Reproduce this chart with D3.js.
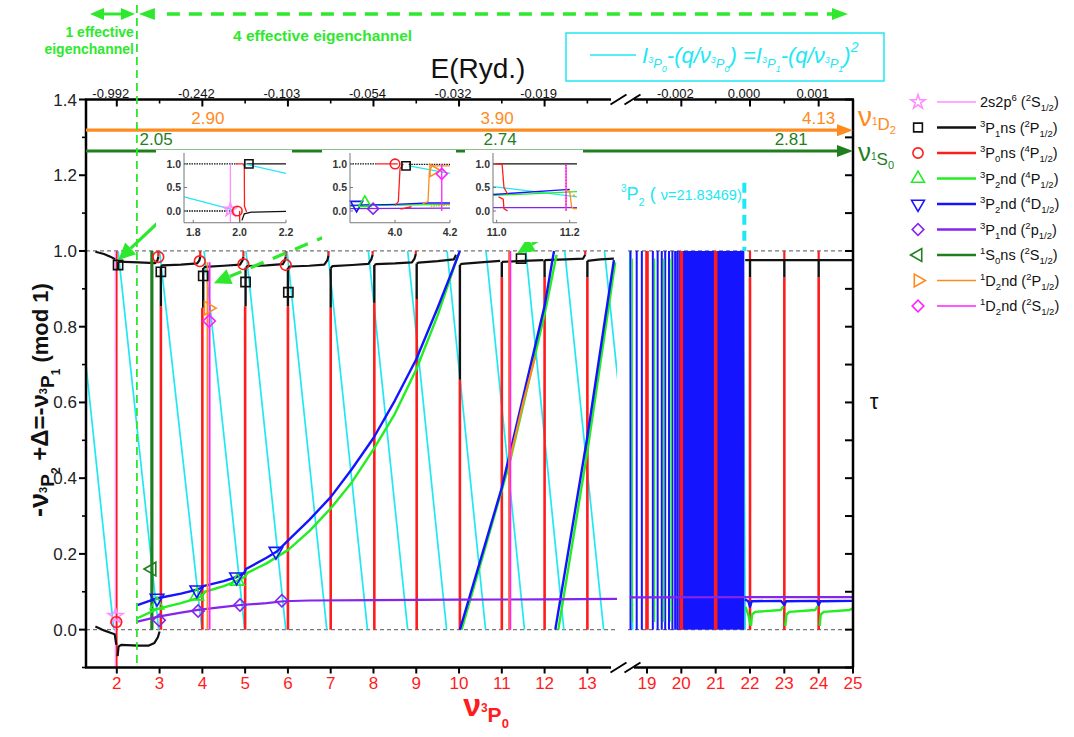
<!DOCTYPE html>
<html><head><meta charset="utf-8">
<script src="https://cdn.jsdelivr.net/npm/d3@7"></script>
<style>body{margin:0;background:#fff} svg{display:block} text{font-family:"Liberation Sans",Arial,sans-serif}</style>
</head><body><svg id="c" width="1074" height="737"></svg>
<script>
// ================= DATA =================
const yTickVals=[0,0.2,0.4,0.6,0.8,1.0,1.2,1.4];
const yMinorVals=[-0.1,0.1,0.3,0.5,0.7,0.9,1.1,1.3];
const xTickLeft=[2,3,4,5,6,7,8,9,10,11,12,13];
const xTickRight=[19,20,21,22,23,24,25];
const topMajorNu=[2,4,6,8,10,12,20,22,24];
const topLabels=["-0.992","-0.242","-0.103","-0.054","-0.032","-0.019","-0.002","0.000","0.001"];
const topMinorNu=[3,5,7,9,11,13,19,21,23,25];

// cyan: [nu_start, y_start, nu_end, y_end]
const cyanLines=[[1.28,0.70,1.93,0],[2.03,1,2.98,0],[3.0,1,3.99,0],[4.04,1,4.99,0],[5.02,1,5.95,0],[5.98,1,6.91,0],[6.93,1,7.86,0],[7.88,1,8.8,0],[8.8,1,9.71,0],[9.72,1,10.62,0],[10.63,1,11.53,0],[11.56,1,12.45,0],[12.47,1,13.38,0],[13.4,1,13.72,0.65],[18.5,1,18.58,0],[21.8,1,21.86,0]];

// 3P1ns (black)
const blackCurves=[
 [[1.5,0.998],[1.7,0.992],[1.85,0.985],[1.96,0.978]],
 [[2.03,0.972],[2.5,0.97],[2.9,0.968],[2.95,0.975],[2.97,0.985]],
 [[3.03,0.958],[3.06,0.962],[3.5,0.964],[3.88,0.967],[3.93,0.975],[3.95,0.985]],
 [[4.03,0.955],[4.06,0.958],[4.5,0.961],[4.88,0.964],[4.94,0.975],[4.96,0.985]],
 [[5.02,0.956],[5.05,0.96],[5.5,0.962],[5.88,0.965],[5.93,0.975],[5.95,0.985]],
 [[6.0,0.955],[6.04,0.959],[6.5,0.961],[6.85,0.964],[6.92,0.975],[6.95,0.988]],
 [[7.0,0.954],[7.04,0.96],[7.5,0.963],[7.88,0.966],[7.95,0.978],[7.98,0.99]],
 [[8.02,0.963],[8.06,0.965],[8.5,0.967],[8.9,0.97],[8.96,0.98],[8.99,0.992]],
 [[9.01,0.967],[9.05,0.969],[9.5,0.973],[9.88,0.978],[9.93,0.99]],
 [[10.02,0.963],[10.06,0.966],[10.5,0.97],[10.96,0.974]],
 [[11.0,0.971],[11.5,0.974],[11.97,0.976]],
 [[12.0,0.976],[12.5,0.978],[12.9,0.98],[12.95,0.99]],
 [[13.0,0.974],[13.3,0.978],[13.62,0.98]],
 [[21.86,0.976],[22.5,0.976],[23.5,0.976],[25,0.976]],
 [[1.5,0.008],[1.7,-0.002],[1.85,-0.008],[1.95,-0.012],[1.99,-0.04]],
 [[2.02,-0.07],[2.04,-0.045],[2.1,-0.04],[2.5,-0.042],[2.75,-0.042],[2.88,-0.035],[2.96,-0.02],[3.0,-0.005]]
];
// [nu, yTop, yBottom]
const blackDrops=[[2.03,0.972,0.95],[3.03,0.958,0.854],[4.02,0.955,0.85],[5.01,0.956,0.854],[6.0,0.955,0.854],[7.0,0.954,0.85],[8.02,0.963,0.863],[9.01,0.967,0.873],[10.02,0.963,0.66],[11.0,0.971,0.93],[12.0,0.976,0.93],[13.0,0.974,0.93],[22.0,0.976,0.93],[23.0,0.976,0.93],[24.0,0.976,0.93]];

// 3P0ns (red): [nu, y0, y1]
const redVerticals=[[2.0,-0.1,1.0],[3.03,0,0.854],[4.0,0,0.85],[5.0,0,0.854],[6.0,0,0.854],[7.0,0,0.85],[8.02,0,0.863],[9.01,0,0.873],[10.02,0,0.66],[11.0,0,0.93],[11.18,0,1.0],[12.0,0,0.93],[13.0,0,0.93],[22.0,0,0.93],[23.0,0,0.93],[24.0,0,0.93]];
const redThick=[[19.0,0,1],[20.0,0,1],[21.0,0,1]];
const redHooks=[[2.97,0.985,1.0],[3.95,0.985,1.0],[4.96,0.985,1.0],[5.95,0.985,1.0],[6.95,0.988,1.0],[7.98,0.99,1.0],[8.99,0.992,1.0],[12.95,0.99,1.0],[22.0,0.976,1.0],[23.0,0.976,1.0],[24.0,0.976,1.0]];

// 3P2nd (4D) blue
const blueCurves=[
 [[2.48,0.065],[2.95,0.083],[3.5,0.095],[3.85,0.105],[3.98,0.11],[4.02,0.115],[4.5,0.128],[4.8,0.139],[4.98,0.15],[5.02,0.16],[5.5,0.19],[5.75,0.207],[6.0,0.235],[6.5,0.29],[7.0,0.35],[7.5,0.425],[8.0,0.506],[8.5,0.605],[9.0,0.714],[9.5,0.85],[9.85,0.95],[10.02,1.0]],
 [[10.02,0],[11.0,0.375],[12.0,0.855],[12.22,1.0]],
 [[12.25,0],[13.0,0.51],[13.62,0.976]],
 [[21.85,0.08],[21.95,0.075],[22.0,0.06],[22.05,0.075],[22.9,0.076],[23.0,0.065],[23.05,0.075],[23.95,0.076],[24.0,0.065],[24.05,0.075],[25,0.076]]
];
const blueRightLines=[18.52,18.7,18.85,19.17,19.31,19.43,19.53,19.64,19.74,19.82,19.88,19.94,19.98];
const blueBand=[20.0,21.835];

// 3P2nd (4P) green
const greenCurves=[
 [[2.48,0.03],[2.95,0.055],[3.5,0.07],[3.85,0.082],[4.0,0.09],[4.06,0.1],[4.5,0.115],[4.8,0.128],[5.0,0.14],[5.05,0.15],[5.5,0.175],[6.0,0.21],[6.5,0.26],[7.0,0.32],[7.5,0.39],[8.0,0.476],[8.5,0.57],[9.0,0.687],[9.5,0.83],[9.98,0.99]],
 [[10.06,0],[11.19,0.444],[12.0,0.833],[12.28,0.99]],
 [[12.32,0],[13.0,0.47],[13.65,0.97]],
 [[21.87,0.06],[21.95,0.04],[22.02,0.01]],
 [[22.03,0.01],[22.06,0.04],[22.15,0.047],[22.9,0.052],[22.97,0.062]],
 [[23.03,0.01],[23.06,0.04],[23.15,0.047],[23.9,0.052],[23.97,0.062]],
 [[24.03,0.01],[24.06,0.04],[24.15,0.047],[24.9,0.052],[25,0.056]]
];
const greenRightLines=[18.55,19.2,19.47,19.68];

// 3P1nd purple
const purpleCurves=[
 [[2.48,0.021],[3.0,0.035],[3.5,0.045],[3.9,0.052],[4.5,0.06],[4.9,0.065],[5.5,0.07],[5.9,0.075],[6.5,0.077],[8,0.078],[10,0.079],[12,0.08],[13.72,0.081]],
 [[18.5,0.085],[25,0.086]]
];
const pinkVerticals=[[1.97,-0.1,1.0]];
const dkGreenVerticals=[[2.82,0,1.0]];
const orangeVerticals=[[4.12,0,0.97],[11.17,0,1.0]];
const orangeCurves=[[[11.19,0.45],[11.5,0.6],[11.78,0.72]]];
const magentaVerticals=[[4.17,0,0.97],[11.2,0,1.0]];

// markers
const mkStar=[[1.97,0.036]];
const mkSquare=[[2.03,0.963],[3.03,0.945],[4.02,0.934],[5.01,0.918],[6.01,0.891],[11.45,0.98]];
const mkCircle=[[1.99,0.02],[2.97,0.984],[3.94,0.973],[4.96,0.965],[5.95,0.963]];
const mkTriUp=[[2.94,0.065],[3.87,0.089],[4.82,0.128]];
const mkTriDown=[[2.94,0.083],[3.87,0.105],[4.8,0.139],[5.72,0.207]];
const mkDiaPurple=[[2.99,0.025],[3.9,0.049],[4.88,0.065],[5.86,0.076]];
const mkTriLeft=[[2.82,0.16]];
const mkTriRight=[[4.14,0.849]];
const mkDiaMag=[[4.16,0.815]];

// channel thresholds (arrows)
const nu1D2=[["2.90",4.13],["3.90",10.89],["4.13",24.0]];
const nu1S0=[["2.05",2.92],["2.74",10.96],["2.81",23.2]];
const y1D2=1.319, y1S0=1.264;
const nu3P2=21.83469;
const channelSplitNu=2.47;

// insets
const insetY=[-0.25,1.19];
const insets=[
 {xd:[1.76,2.2], xt:[1.8,2.0,2.2],
  lines:[
   {c:"#111",d:[[1.76,1.0],[1.99,1.0]],dash:"1.5,1"},
   {c:"#111",d:[[2.03,1.0],[2.2,1.0]]},
   {c:"#111",d:[[1.76,0.0],[1.97,0.0]],dash:"1.5,1"},
   {c:"#111",d:[[2.01,-0.2],[2.02,-0.06],[2.05,-0.025],[2.2,-0.01]]},
   {c:"cyan",d:[[1.76,0.3],[1.97,0.03]]},
   {c:"cyan",d:[[2.02,1.0],[2.2,0.8]]},
   {c:"pink",d:[[1.96,-0.25],[1.96,1.0]]},
   {c:"red",d:[[1.985,1.0],[2.015,1.0],[2.02,0.95],[2.021,0.1],[2.03,-0.02]]},
   {c:"red",d:[[2.0,0.0],[2.0,-0.25]]}
  ],
  marks:[["star",1.96,0.03],["circle",1.99,0.0],["square",2.04,1.0]]},
 {xd:[3.836,4.2], xt:[4.0,4.2],
  lines:[
   {c:"#111",d:[[3.836,1.0],[3.93,1.0]],dash:"1.5,1"},
   {c:"red",d:[[3.93,1.0],[4.01,1.0]]},
   {c:"#111",d:[[4.05,0.99],[4.2,0.99]],dash:"1.5,1"},
   {c:"cyan",d:[[4.05,0.96],[4.2,0.8]]},
   {c:"purple",d:[[3.836,0.05],[4.2,0.06]]},
   {c:"green",d:[[3.836,0.1],[3.9,0.14],[3.95,0.12],[4.2,0.14]]},
   {c:"blue",d:[[3.836,0.12],[4.0,0.14],[4.12,0.17],[4.2,0.17]]},
   {c:"red",d:[[4.0,0.12],[4.012,0.2],[4.018,0.9],[4.03,1.0]]},
   {c:"red",d:[[4.02,0.04],[4.06,0.09]]},
   {c:"orange",d:[[4.1,0.15],[4.12,0.2],[4.125,0.85],[4.135,0.96],[4.2,0.96]]},
   {c:"orange",d:[[4.13,0.1],[4.2,0.13]],dash:"1.5,1"},
   {c:"magenta",d:[[4.17,0.0],[4.17,1.0]]}
  ],
  marks:[["circle",4.0,1.0],["square",4.04,0.96],["triRight",4.14,0.86],["diaMag",4.17,0.79],["triDown",3.86,0.13],["triUp",3.89,0.17],["diaPurple",3.92,0.05]]},
 {xd:[10.99,11.22], xt:[11.0,11.2],
  lines:[
   {c:"#111",d:[[10.99,1.0],[11.22,1.0]]},
   {c:"cyan",d:[[10.99,0.52],[11.22,0.3]]},
   {c:"purple",d:[[10.99,0.07],[11.22,0.07]]},
   {c:"green",d:[[10.99,0.33],[11.22,0.41]]},
   {c:"blue",d:[[10.99,0.35],[11.2,0.46]]},
   {c:"red",d:[[10.99,1.0],[11.015,0.99],[11.02,0.5],[11.03,0.36]]},
   {c:"red",d:[[11.005,0.3],[11.018,0.25],[11.02,0.05],[11.03,0.0]]},
   {c:"red",d:[[11.19,0.0],[11.19,1.0]],dash:"1.5,1.5"},
   {c:"magenta",d:[[11.19,0.02],[11.19,1.0]]},
   {c:"orange",d:[[11.19,0.45],[11.2,0.42],[11.205,0.1],[11.21,0.05],[11.22,0.05]]},
   {c:"orange",d:[[11.21,0.35],[11.215,0.3]]}
  ],
  marks:[]}
];
const insetPx=[[184,286],[350,450],[493,577]];

// legend
const legendItems=[
 ["star","pink","2s2p^{6} (^{2}S_{1/2})"],
 ["square","black","^{3}P_{1}ns (^{2}P_{1/2})"],
 ["circle","red","^{3}P_{0}ns (^{4}P_{1/2})"],
 ["triUp","green","^{3}P_{2}nd (^{4}P_{1/2})"],
 ["triDown","blue","^{3}P_{2}nd (^{4}D_{1/2})"],
 ["diaPurple","purple","^{3}P_{1}nd (^{2}p_{1/2})"],
 ["triLeft","dkgreen","^{1}S_{0}ns (^{2}S_{1/2})"],
 ["triRight","orange","^{1}D_{2}nd (^{2}P_{1/2})"],
 ["diaMag","magenta","^{1}D_{2}nd (^{2}S_{1/2})"]
];

// ================= STYLE =================
const COL={cyan:"#20e8f2",red:"#ff1c1c",blue:"#1414ff",green:"#22ee22",purple:"#8424ee",orange:"#ff8a1e",
 magenta:"#ff20ff",pink:"#ff8eff",dkgreen:"#1f7f1f",black:"#111",lime:"#2ee82e"};
const col=c=>COL[c]||c;

// ================= SCALES =================
const xL=d3.scaleLinear().domain([2,12]).range([116.8,544.6]);
const xR=d3.scaleLinear().domain([19,25]).range([647,853]);
const X=v=>v<16?xL(v):xR(v);
const Y=d3.scaleLinear().domain([-0.1,1.4]).range([667.5,99.5]);
const PL=86, PR=853, PT=Y(1.4), PB=Y(-0.1);
const BRK0=617, BRK1=628;

const svg=d3.select('#c');
const defs=svg.append('defs');
defs.append('clipPath').attr('id','clipL').append('rect').attr('x',PL).attr('y',PT).attr('width',BRK0-PL).attr('height',PB-PT);
defs.append('clipPath').attr('id','clipR').append('rect').attr('x',BRK1).attr('y',PT).attr('width',PR-BRK1).attr('height',PB-PT);
const gL=svg.append('g').attr('clip-path','url(#clipL)');
const gR=svg.append('g').attr('clip-path','url(#clipR)');
const G=v=>v<16?gL:gR;
const line=d3.line().x(d=>X(d[0])).y(d=>Y(d[1]));

function poly(pts,c,w,dash){G(pts[0][0]).append('path').attr('d',line(pts)).attr('fill','none')
  .attr('stroke',col(c)).attr('stroke-width',w).attr('stroke-linejoin','round').attr('stroke-dasharray',dash||null);}
function vline(a,c,w){poly([[a[0],a[1]],[a[0],a[2]]],c,w);}

function symPath(type,size){
  const s=size||1;
  switch(type){
    case 'star': return {p:d3.symbol(d3.symbolStar,70*s)(),r:0};
    case 'square': return {p:d3.symbol(d3.symbolSquare,85*s)(),r:0};
    case 'circle': return {p:d3.symbol(d3.symbolCircle,90*s)(),r:0};
    case 'triUp': return {p:d3.symbol(d3.symbolTriangle,80*s)(),r:0};
    case 'triDown': return {p:d3.symbol(d3.symbolTriangle,80*s)(),r:180};
    case 'triLeft': return {p:d3.symbol(d3.symbolTriangle,80*s)(),r:-90};
    case 'triRight': return {p:d3.symbol(d3.symbolTriangle,80*s)(),r:90};
    case 'diaPurple': case 'diaMag': return {p:d3.symbol(d3.symbolSquare,75*s)(),r:45};
  }
}
const symCol={star:'pink',square:'black',circle:'red',triUp:'green',triDown:'blue',diaPurple:'purple',triLeft:'dkgreen',triRight:'orange',diaMag:'magenta'};
function drawSym(g,type,x,y,size){
  const s=symPath(type,size);
  g.append('path').attr('d',s.p).attr('transform',`translate(${x},${y}) rotate(${s.r})`)
   .attr('fill','none').attr('stroke',col(symCol[type])).attr('stroke-width',1.6);
}

function rich(t,str,size){
  const re=/(\^\{[^}]*\}|_\{[^}]*\}|[^\^_]+)/g; let m,off=0;
  while((m=re.exec(str))){
    const s=m[0]; let tgt=0,txt=s,fs=size;
    if(s[0]==='^'){tgt=-size*0.4;txt=s.slice(2,-1);fs=size*0.66;}
    else if(s[0]==='_'){tgt=size*0.28;txt=s.slice(2,-1);fs=size*0.66;}
    t.append('tspan').attr('dy',tgt-off).attr('font-size',fs).text(txt); off=tgt;
  }
}
function tokens(t,list){let off=0;list.forEach(([txt,o,fs,extra])=>{const ts=t.append('tspan').attr('dy',o-off).attr('font-size',fs).text(txt);if(extra)ts.attr('font-style',extra);off=o;});}

// ================= PLOT CONTENT =================
[0,1].forEach(v=>{
  [gL,gR].forEach((g,i)=>g.append('line').attr('x1',i?BRK1:PL).attr('x2',i?PR:BRK0).attr('y1',Y(v)).attr('y2',Y(v))
   .attr('stroke','#777').attr('stroke-width',1.3).attr('stroke-dasharray','4,3'));
});
cyanLines.forEach(c=>poly([[c[0],c[1]],[c[2],c[3]]],'cyan',1.7));
pinkVerticals.forEach(a=>vline(a,'pink',1.6));
gR.append('rect').attr('x',X(blueBand[0])).attr('width',X(blueBand[1])-X(blueBand[0]))
  .attr('y',Y(1.0)).attr('height',Y(0)-Y(1.0)).attr('fill',COL.blue);
blueRightLines.forEach(v=>vline([v,0,1.0],'blue',2));
greenRightLines.forEach(v=>vline([v+0.02,0.02,0.98],'green',1.4));
redVerticals.forEach(a=>vline(a,'red',a[0]===2.0?1.6:2.6));
redThick.forEach(a=>vline(a,'red',3.6));
redHooks.forEach(a=>vline(a,'red',2.2));
blackCurves.forEach(p=>poly(p,'black',2.2));
blackDrops.forEach(a=>vline(a,'black',2.4));
dkGreenVerticals.forEach(a=>vline(a,'dkgreen',3.2));
greenCurves.forEach(p=>poly(p,'green',2.4));
blueCurves.forEach(p=>poly(p,'blue',2.4));
purpleCurves.forEach(p=>poly(p,'purple',2.2));
orangeVerticals.forEach(a=>vline(a,'orange',1.8));
orangeCurves.forEach(p=>poly(p,'orange',2.2));
magentaVerticals.forEach(a=>vline(a,'magenta',1.8));
const gM=svg.append('g');
[[mkStar,'star'],[mkSquare,'square'],[mkCircle,'circle'],[mkTriUp,'triUp'],[mkTriDown,'triDown'],[mkDiaPurple,'diaPurple'],[mkTriLeft,'triLeft'],[mkTriRight,'triRight'],[mkDiaMag,'diaMag']]
 .forEach(([arr,t])=>arr.forEach(d=>drawSym(gM,t,X(d[0]),Y(d[1]))));

// ================= AXES =================
const ax=svg.append('g').attr('stroke','#000');
ax.append('line').attr('x1',PL).attr('x2',PL).attr('y1',PT).attr('y2',PB).attr('stroke-width',2.5);
ax.append('line').attr('x1',PR).attr('x2',PR).attr('y1',PT).attr('y2',PB).attr('stroke-width',2.5);
[PB,PT].forEach(yy=>{
  ax.append('line').attr('x1',PL-1).attr('x2',BRK0-6).attr('y1',yy).attr('y2',yy).attr('stroke-width',2.5);
  ax.append('line').attr('x1',BRK1+6).attr('x2',PR+1).attr('y1',yy).attr('y2',yy).attr('stroke-width',2.5);
  [[-12,4],[2,18]].forEach(([a,b])=>ax.append('line').attr('x1',(BRK0+BRK1)/2+a).attr('x2',(BRK0+BRK1)/2+b)
    .attr('y1',yy+5).attr('y2',yy-5).attr('stroke-width',2));
});
yTickVals.forEach(v=>{
  ax.append('line').attr('x1',PL-7).attr('x2',PL).attr('y1',Y(v)).attr('y2',Y(v)).attr('stroke-width',2);
  ax.append('line').attr('x1',PR-8).attr('x2',PR).attr('y1',Y(v)).attr('y2',Y(v)).attr('stroke-width',2);
  svg.append('text').attr('x',PL-9).attr('y',Y(v)+6).attr('text-anchor','end').attr('font-size',17).attr('fill','#222').text(v.toFixed(1));
});
yMinorVals.forEach(v=>{
  ax.append('line').attr('x1',PL-4).attr('x2',PL).attr('y1',Y(v)).attr('y2',Y(v)).attr('stroke-width',1.6);
  ax.append('line').attr('x1',PR-8).attr('x2',PR).attr('y1',Y(v)).attr('y2',Y(v)).attr('stroke-width',2);
});
xTickLeft.concat(xTickRight).forEach(v=>{
  ax.append('line').attr('x1',X(v)).attr('x2',X(v)).attr('y1',PB).attr('y2',PB+6).attr('stroke-width',2);
  svg.append('text').attr('x',X(v)).attr('y',PB+21).attr('text-anchor','middle').attr('font-size',17).attr('fill',COL.red).text(v);
});
topMajorNu.forEach((v,i)=>{
  ax.append('line').attr('x1',X(v)).attr('x2',X(v)).attr('y1',PT).attr('y2',PT+7).attr('stroke-width',2);
  svg.append('text').attr('x',X(v)-6).attr('y',PT-2).attr('text-anchor','middle').attr('font-size',13).attr('fill','#111').text(topLabels[i]);
});
topMinorNu.forEach(v=>ax.append('line').attr('x1',X(v)).attr('x2',X(v)).attr('y1',PT).attr('y2',PT+4).attr('stroke-width',1.6));
svg.append('text').attr('x',478).attr('y',78).attr('text-anchor','middle').attr('font-size',28).attr('fill','#111').text('E(Ryd.)');

// axis titles
const yl=svg.append('text').attr('transform','translate(48,400) rotate(-90)').attr('text-anchor','middle')
  .attr('font-weight','bold').attr('fill','#111');
tokens(yl,[["-ν",0,27],["3",-1,11],["P",6,19],["2",12,12],[" +Δ=-ν",0,24],["3",-1,11],["P",6,19],["1",12,12],["  (mod 1)",0,22]]);
const xl=svg.append('text').attr('x',486).attr('y',716).attr('text-anchor','middle').attr('font-weight','bold').attr('fill',COL.red);
tokens(xl,[["ν",0,32],["3",-4,12],["P",6,21],["0",12,13]]);
svg.append('text').attr('x',874).attr('y',409).attr('text-anchor','middle').attr('font-size',22).attr('fill','#111').text('τ');

// ================= THRESHOLD ARROWS =================
function arrowLine(yv,c,labels){
  const yy=Y(yv);
  svg.append('line').attr('x1',PL).attr('x2',PR-12).attr('y1',yy).attr('y2',yy).attr('stroke',col(c)).attr('stroke-width',3.2);
  svg.append('path').attr('d',`M${PR-16},${yy-6}L${PR},${yy}L${PR-16},${yy+6}Z`).attr('fill',col(c));
  labels.forEach(([t,v])=>svg.append('text').attr('x',X(v)).attr('y',yy-6).attr('text-anchor','middle').attr('font-size',17).attr('fill',col(c)).text(t));
}
arrowLine(y1D2,'orange',nu1D2);
arrowLine(y1S0,'dkgreen',nu1S0);
const n1=svg.append('text').attr('x',858).attr('y',126).attr('fill',COL.orange);
tokens(n1,[["ν",0,28],["1",-1,10],["D",4,17],["2",8,11]]);
const n2=svg.append('text').attr('x',858).attr('y',161).attr('fill',COL.dkgreen);
tokens(n2,[["ν",0,26],["1",-1,10],["S",4,17],["0",8,11]]);

// ================= ANNOTATIONS =================
const xs=X(channelSplitNu);
svg.append('line').attr('x1',xs).attr('x2',xs).attr('y1',5).attr('y2',PB).attr('stroke',COL.lime).attr('stroke-width',1.8).attr('stroke-dasharray','8,5');
const ty=14;
svg.append('line').attr('x1',100).attr('x2',xs-12).attr('y1',ty).attr('y2',ty).attr('stroke',COL.lime).attr('stroke-width',3);
svg.append('path').attr('d',`M90,${ty}L104,${ty-6}L104,${ty+6}Z M${xs-2},${ty}L${xs-16},${ty-6}L${xs-16},${ty+6}Z`).attr('fill',COL.lime);
svg.append('path').attr('d',`M${xs+2},${ty}L${xs+18},${ty-6}L${xs+18},${ty+6}Z M848,${ty}L832,${ty-6}L832,${ty+6}Z`).attr('fill',COL.lime);
svg.append('line').attr('x1',xs+30).attr('x2',832).attr('y1',ty).attr('y2',ty).attr('stroke',COL.lime).attr('stroke-width',3.5).attr('stroke-dasharray','13,9');
svg.append('text').attr('x',xs-3).attr('y',37).attr('text-anchor','end').attr('font-size',14).attr('font-weight','bold').attr('fill',COL.lime).text('1 effective');
svg.append('text').attr('x',xs-3).attr('y',54).attr('text-anchor','end').attr('font-size',14).attr('font-weight','bold').attr('fill',COL.lime).text('eigenchannel');
svg.append('text').attr('x',233).attr('y',41).attr('font-size',15.5).attr('font-weight','bold').attr('fill',COL.lime).text('4 effective eigenchannel');

svg.append('rect').attr('x',566).attr('y',33).attr('width',318).attr('height',48).attr('fill','none').attr('stroke',COL.cyan).attr('stroke-width',1.5);
svg.append('line').attr('x1',590).attr('x2',636).attr('y1',55).attr('y2',55).attr('stroke',COL.cyan).attr('stroke-width',1.6);
const cf=svg.append('text').attr('x',642).attr('y',63).attr('fill',COL.cyan).attr('font-style','italic');
tokens(cf,[["I",0,22],["3",0,9],["P",5,13],["0",9,9],["-(q/ν",0,22],["3",0,9],["P",5,13],["0",9,9],[") =I",0,22],["3",0,9],["P",5,13],["1",9,9],["-(q/ν",0,22],["3",0,9],["P",5,13],["1",9,9],[")",0,22],["2",-11,14]]);

const x3=X(nu3P2);
svg.append('line').attr('x1',x3).attr('x2',x3).attr('y1',Y(1.18)).attr('y2',Y(1.0)).attr('stroke',COL.cyan).attr('stroke-width',4).attr('stroke-dasharray','10,6');
const t3=svg.append('text').attr('x',621).attr('y',200).attr('fill',COL.cyan);
tokens(t3,[["3",-8,10],["P",0,18],["2",6,11],[" ( ",0,18],["ν=21.83469)",0,14.5]]);

const pointers=[{from:[3.17,1.097],to:[2.035,0.976],dash:null},{from:[7.5,1.068],to:[4.27,0.915],dash:'14,10'},{from:[12.13,1.047],to:[11.36,0.994],dash:null}];
pointers.forEach(p=>{
  const x1=X(p.from[0]),y1=Y(p.from[1]),x2=X(p.to[0]),y2=Y(p.to[1]);
  const a=Math.atan2(y2-y1,x2-x1),L=17,W=8;
  const bx=x2-L*Math.cos(a),by=y2-L*Math.sin(a);
  svg.append('line').attr('x1',x1).attr('y1',y1).attr('x2',bx).attr('y2',by).attr('stroke',COL.lime).attr('stroke-width',3.2).attr('stroke-dasharray',p.dash);
  svg.append('path').attr('d',`M${x2},${y2}L${bx-W*Math.sin(a)},${by+W*Math.cos(a)}L${bx+W*Math.sin(a)},${by-W*Math.cos(a)}Z`).attr('fill',COL.lime);
});

// ================= INSETS =================
insets.forEach((ins,i)=>{
  const [px0,px1]=insetPx[i];
  const ix=d3.scaleLinear().domain(ins.xd).range([px0,px1]);
  const iy=d3.scaleLinear().domain(insetY).range([222.75,155]);
  const g=svg.append('g');
  g.append('rect').attr('x',px0-28).attr('y',150).attr('width',px1-px0+34).attr('height',92).attr('fill','#fff');
  const cid='ci'+i;
  defs.append('clipPath').attr('id',cid).append('rect').attr('x',px0).attr('y',150).attr('width',px1-px0).attr('height',222.75-150);
  const gc=g.append('g').attr('clip-path',`url(#${cid})`);
  const il=d3.line().x(d=>ix(d[0])).y(d=>iy(d[1]));
  ins.lines.forEach(l=>gc.append('path').attr('d',il(l.d)).attr('fill','none').attr('stroke',col(l.c)).attr('stroke-width',1.3).attr('stroke-dasharray',l.dash||null));
  ins.marks.forEach(([t,xv,yv])=>drawSym(g,t,ix(xv),iy(yv),0.8));
  g.append('line').attr('x1',px0).attr('x2',px0).attr('y1',153).attr('y2',222.75).attr('stroke','#777').attr('stroke-width',1);
  g.append('line').attr('x1',px0).attr('x2',px1).attr('y1',222.75).attr('y2',222.75).attr('stroke','#777').attr('stroke-width',1);
  [1.0,0.5,0.0].forEach(v=>{
    g.append('line').attr('x1',px0).attr('x2',px0+3).attr('y1',iy(v)).attr('y2',iy(v)).attr('stroke','#777');
    g.append('text').attr('x',px0-3).attr('y',iy(v)+4).attr('text-anchor','end').attr('font-size',10.5).attr('font-weight','bold').attr('fill','#333').text(v.toFixed(1));
  });
  ins.xt.forEach(v=>{
    g.append('line').attr('x1',ix(v)).attr('x2',ix(v)).attr('y1',222.75).attr('y2',219.75).attr('stroke','#777');
    g.append('text').attr('x',ix(v)).attr('y',236).attr('text-anchor','middle').attr('font-size',10.5).attr('font-weight','bold').attr('fill','#333').text(v.toFixed(1));
  });
});

// ================= LEGEND =================
legendItems.forEach(([t,c,label],i)=>{
  const yy=102+i*25.5;
  drawSym(svg,t,918,yy,0.9);
  svg.append('line').attr('x1',937).attr('x2',976).attr('y1',yy).attr('y2',yy).attr('stroke',col(c))
    .attr('stroke-width',(c==='pink'||c==='orange'||c==='magenta')?1.5:2.4);
  const tx=svg.append('text').attr('x',980).attr('y',yy+5).attr('fill','#111');
  rich(tx,label,14.5);
});
</script></body></html>
